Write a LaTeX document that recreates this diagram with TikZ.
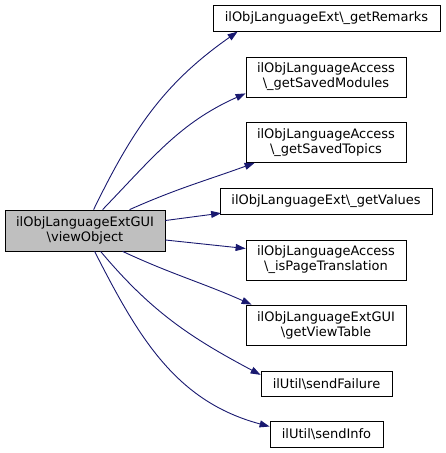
\documentclass[tikz,border=0pt]{standalone}
\usepackage{fontspec}
\setmainfont{DejaVu Sans}
\usetikzlibrary{arrows.meta}
\definecolor{callblue}{HTML}{191970}

\begin{document}
\begin{tikzpicture}[
        x=1pt, y=1pt,
        >={Triangle[length=10pt,width=7pt]},
        every node/.style={font=\fontsize{13}{15}\selectfont, align=center},
        fn/.style={draw=black, line width=0.8pt, fill=white, inner sep=0pt, minimum width=160pt, minimum height=40pt},
        mainfn/.style={fn, fill=black!25, minimum height=41pt},
        slim/.style={fn, minimum height=25.5pt},
        call/.style={->, draw=callblue, line width=0.9pt}
    ]
        \useasboundingbox (0,0) rectangle (445,-453);

        \node[mainfn] (view) at (85,-230.5) {ilObjLanguageExtGUI\\\textbackslash viewObject};

        \node[slim, minimum width=227pt] (remarks) at (326.5,-18.5) {ilObjLanguageExt\textbackslash\_getRemarks};
        \node[fn] (modules) at (326,-77) {ilObjLanguageAccess\\\textbackslash\_getSavedModules};
        \node[fn] (topics) at (326,-142.5) {ilObjLanguageAccess\\\textbackslash\_getSavedTopics};
        \node[slim, minimum width=212pt] (values) at (326,-201.5) {ilObjLanguageExt\textbackslash\_getValues};
        \node[fn] (pagetrans) at (326,-260) {ilObjLanguageAccess\\\textbackslash\_isPageTranslation};
        \node[fn] (viewtable) at (326,-325) {ilObjLanguageExtGUI\\\textbackslash getViewTable};
        \node[slim, minimum width=131pt] (failure) at (326.5,-384) {ilUtil\textbackslash sendFailure};
        \node[slim, minimum width=113pt] (info) at (326.5,-434.5) {ilUtil\textbackslash sendInfo};

        \draw[call] ([xshift=89pt]view.north west) to[out=64, in=215] ([xshift=25pt]remarks.south west);
        \draw[call] ([xshift=98pt]view.north west) to[out=46, in=204] ([yshift=4pt]modules.south west);
        \draw[call] ([xshift=125pt]view.north west) to[out=24, in=200] ([xshift=9pt]topics.south west);
        \draw[call] ([yshift=10pt]view.east) -- ([xshift=1.5pt,yshift=1.5pt]values.south west);
        \draw[call] ([yshift=-9.5pt]view.east) -- ([yshift=11.5pt]pagetrans.west);
        \draw[call] ([xshift=118pt]view.south west) to[out=-25, in=156] ([xshift=6pt]viewtable.north west);
        \draw[call] ([xshift=96pt]view.south west) to[out=-50, in=152] ([yshift=-4pt]failure.north west);
        \draw[call] ([xshift=90pt]view.south west) to[out=-63, in=165] ([yshift=8pt]info.west);
\end{tikzpicture}
\end{document}
